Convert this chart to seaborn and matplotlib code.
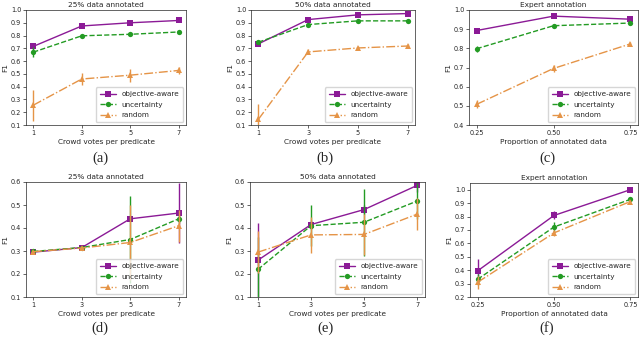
import numpy as np
import pandas as pd
import matplotlib
matplotlib.use("Agg")
import matplotlib.pyplot as plt
import seaborn as sns

sns.set_style("ticks")
plt.rcParams['font.family'] = ['DejaVu Sans']

votes = [1, 3, 5, 7]
props = [0.25, 0.50, 0.75]
series = ["objective-aware", "uncertainty", "random"]

# panel (a)
a_obj = [0.715, 0.875, 0.900, 0.918]; a_obj_e = [0.03, 0.01, 0.01, 0.01]
a_unc = [0.670, 0.798, 0.810, 0.828]; a_unc_e = [0.04, 0.01, 0.01, 0.01]
a_rnd = [0.255, 0.460, 0.490, 0.527]; a_rnd_e = [0.12, 0.045, 0.05, 0.03]
# panel (b)
b_obj = [0.735, 0.925, 0.962, 0.972]; b_obj_e = [0.01, 0.01, 0.01, 0.01]
b_unc = [0.748, 0.886, 0.915, 0.915]; b_unc_e = [0.01, 0.01, 0.01, 0.01]
b_rnd = [0.145, 0.672, 0.703, 0.718]; b_rnd_e = [0.12, 0.02, 0.015, 0.015]
# panel (c)
c_obj = [0.893, 0.968, 0.952]; c_obj_e = [0.005, 0.005, 0.005]
c_unc = [0.798, 0.918, 0.932]; c_unc_e = [0.015, 0.008, 0.008]
c_rnd = [0.508, 0.695, 0.823]; c_rnd_e = [0.02, 0.02, 0.01]
# panel (d)
d_obj = [0.295, 0.315, 0.440, 0.465]; d_obj_e = [0.005, 0.005, 0.01, 0.13]
d_unc = [0.298, 0.315, 0.350, 0.440]; d_unc_e = [0.005, 0.005, 0.19, 0.02]
d_rnd = [0.297, 0.313, 0.337, 0.410]; d_rnd_e = [0.005, 0.005, 0.165, 0.07]
# panel (e)
e_obj = [0.260, 0.415, 0.480, 0.585]; e_obj_e = [0.16, 0.02, 0.02, 0.03]
e_unc = [0.220, 0.410, 0.425, 0.517]; e_unc_e = [0.14, 0.09, 0.145, 0.08]
e_rnd = [0.295, 0.370, 0.372, 0.460]; e_rnd_e = [0.09, 0.08, 0.09, 0.07]
# panel (f)
f_obj = [0.395, 0.808, 1.000]; f_obj_e = [0.085, 0.03, 0.005]
f_unc = [0.332, 0.722, 0.928]; f_unc_e = [0.04, 0.035, 0.01]
f_rnd = [0.310, 0.678, 0.912]; f_rnd_e = [0.05, 0.02, 0.01]

titles = ["25% data annotated", "50% data annotated", "Expert annotation"] * 2
captions = ["(a)", "(b)", "(c)", "(d)", "(e)", "(f)"]
xlabels = ["Crowd votes per predicate", "Crowd votes per predicate", "Proportion of annotated data"] * 2

colors = ["#8b1a96", "#239b23", "#e59447"]
markers = ["s", "o", "^"]
lstyles = ["-", "--", "-."]

panels = [
    (votes, [a_obj, a_unc, a_rnd], [a_obj_e, a_unc_e, a_rnd_e], (0.1, 1.0), np.arange(0.1, 1.01, 0.1), ["1", "3", "5", "7"]),
    (votes, [b_obj, b_unc, b_rnd], [b_obj_e, b_unc_e, b_rnd_e], (0.1, 1.0), np.arange(0.1, 1.01, 0.1), ["1", "3", "5", "7"]),
    (props, [c_obj, c_unc, c_rnd], [c_obj_e, c_unc_e, c_rnd_e], (0.4, 1.0), np.arange(0.4, 1.01, 0.1), ["0.25", "0.50", "0.75"]),
    (votes, [d_obj, d_unc, d_rnd], [d_obj_e, d_unc_e, d_rnd_e], (0.1, 0.6), np.arange(0.1, 0.61, 0.1), ["1", "3", "5", "7"]),
    (votes, [e_obj, e_unc, e_rnd], [e_obj_e, e_unc_e, e_rnd_e], (0.1, 0.6), np.arange(0.1, 0.61, 0.1), ["1", "3", "5", "7"]),
    (props, [f_obj, f_unc, f_rnd], [f_obj_e, f_unc_e, f_rnd_e], (0.2, 1.05), np.arange(0.2, 1.01, 0.1), ["0.25", "0.50", "0.75"]),
]

W, H = 640, 339
# pixel boxes: left, top, right, bottom
boxes = [
    (26, 10, 186, 125), (251, 10, 415, 125), (469, 10, 638, 125),
    (26, 182, 186, 297), (250, 182, 425, 297), (470, 183, 638, 297),
]
cap_pos = [(100, 158), (325, 158), (547, 158), (100, 328), (325, 328), (547, 328)]

fig = plt.figure(figsize=(W / 100, H / 100), dpi=100)
for i, (x, ys, es, ylim, yt, xtl) in enumerate(panels):
    l, t, r, b = boxes[i]
    ax = fig.add_axes([l / W, 1 - b / H, (r - l) / W, (b - t) / H])
    for j in range(3):
        df = pd.DataFrame({"x": x, "y": ys[j]})
        sns.lineplot(data=df, x="x", y="y", ax=ax, color=colors[j], marker=markers[j],
                     linestyle=lstyles[j], markersize=3.8, markeredgewidth=0, linewidth=1.0,
                     label=series[j])
        ax.errorbar(x, ys[j], yerr=es[j], fmt="none", ecolor=colors[j], elinewidth=1.0, capsize=0)
    ax.set_ylim(*ylim)
    ax.set_yticks(yt)
    ax.set_yticklabels([f"{v:.1f}" for v in yt])
    ax.set_xticks(x)
    ax.set_xticklabels(xtl)
    pad = (x[-1] - x[0]) * 0.05
    ax.set_xlim(x[0] - pad, x[-1] + pad)
    ax.tick_params(labelsize=4.7, length=2.0, width=0.5, pad=1.5)
    for s in ax.spines.values():
        s.set_linewidth(0.5)
    ax.set_title(titles[i], fontsize=5.3, pad=2.5)
    ax.set_xlabel(xlabels[i], fontsize=5.3, labelpad=2)
    ax.set_ylabel("F1", fontsize=5.3, labelpad=2)
    ax.legend(loc="lower right", fontsize=5.2, handlelength=2.3, borderpad=0.55,
              labelspacing=0.6, handletextpad=0.7, frameon=True, fancybox=True,
              borderaxespad=0.4)
    cx, cy = cap_pos[i]
    fig.text(cx / W, 1 - cy / H, captions[i], ha="center", va="center",
             fontsize=10.5, family="Liberation Serif")

fig.savefig("out.png", dpi=100)
